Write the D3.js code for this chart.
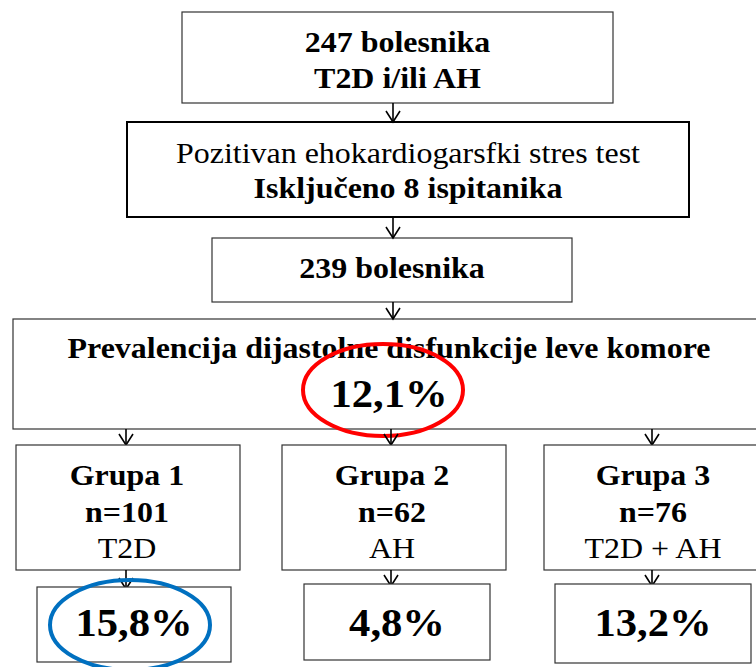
<!DOCTYPE html>
<html>
<head>
<meta charset="utf-8">
<script src="https://cdn.jsdelivr.net/npm/d3@7"></script>
<style>
  body { margin: 0; background: #fff; }
  svg { display: block; }
</style>
</head>
<body>
<div class="flow"></div>
<script>
// chart values
const screened = 247;
const screenedLabel = "T2D i/ili AH";
const excludedLabel = "Pozitivan ehokardiogarsfki stres test";
const excluded = 8;
const included = screened - excluded;
const overallTitle = "Prevalencija dijastolne disfunkcije leve komore";
const overallPrevalence = 12.1;
const groupNames = ["Grupa 1", "Grupa 2", "Grupa 3"];
const groupN = [101, 62, 76];
const groupTypes = ["T2D", "AH", "T2D + AH"];
const groupPrevalence = [15.8, 4.8, 13.2];

const width = 756, height = 667;
const font = "'Liberation Serif', 'Times New Roman', Tinos, serif";
const stretch = 1.065; // source text is a bit wider than Times
const pct = v => v.toFixed(1).replace(".", ",") + "%";

const svg = d3.select(".flow").append("svg")
    .attr("width", width)
    .attr("height", height);

// layout of the top boxes
const topBoxes = [
    { x0: 182, x1: 613, y0: 12, y1: 103, sw: 1.2,
      lines: [{ t: `${screened} bolesnika`, b: true, y: 52 }, { t: screenedLabel, b: true, y: 88 }] },
    { x0: 127, x1: 689, y0: 122, y1: 217, sw: 2,
      lines: [{ t: excludedLabel, b: false, y: 163 }, { t: `Isključeno ${excluded} ispitanika`, b: true, y: 198 }] },
    { x0: 212, x1: 572, y0: 238, y1: 302, sw: 1.2,
      lines: [{ t: `${included} bolesnika`, b: true, y: 278 }] },
    { x0: 13, x1: 766, y0: 319, y1: 429, sw: 1.2,
      lines: [{ t: overallTitle, b: true, y: 358 }] }
];

// columns for the three groups
const col = d3.scaleOrdinal().domain(groupNames).range([126, 391, 652]);
const groupBox = d3.scaleOrdinal().domain(groupNames).range([[16, 240], [282, 506], [544, 760]]);
const resultBox = d3.scaleOrdinal().domain(groupNames).range([[37, 231, 587, 662], [304, 490, 584, 660], [555, 751, 584, 663]]);

function box(x0, x1, y0, y1, sw) {
    svg.append("rect")
        .attr("x", x0).attr("y", y0)
        .attr("width", x1 - x0).attr("height", y1 - y0)
        .attr("fill", "#fff")
        .attr("stroke", sw > 1.5 ? "#000" : "#333")
        .attr("stroke-width", sw);
}

function arrow(x, y0, y1) {
    const g = svg.append("g").attr("stroke", "#000").attr("stroke-width", 1.6).attr("fill", "none");
    g.append("line").attr("x1", x).attr("x2", x).attr("y1", y0).attr("y2", y1);
    g.append("path").attr("d", `M${x - 7},${y1 - 11}L${x},${y1}L${x + 7},${y1 - 11}`);
}

function text(x, y, t, size, bold) {
    return svg.append("text")
        .attr("transform", `translate(${x},${y}) scale(${stretch},1)`)
        .attr("text-anchor", "middle")
        .attr("font-family", font)
        .attr("font-size", size)
        .attr("font-weight", bold ? "bold" : "normal")
        .attr("fill", "#000")
        .text(t);
}

topBoxes.forEach(b => {
    box(b.x0, b.x1, b.y0, b.y1, b.sw);
    const cx = (b.x0 + Math.min(b.x1, 765)) / 2;
    b.lines.forEach(l => text(cx, l.y, l.t, 30, l.b));
});

arrow(393, 103, 122);
arrow(393, 217, 238);
arrow(393, 302, 319);

// overall prevalence
text(389, 407, pct(overallPrevalence), 40, true);
svg.append("ellipse")
    .attr("cx", 383).attr("cy", 390).attr("rx", 80).attr("ry", 46)
    .attr("fill", "none").attr("stroke", "#ff0000").attr("stroke-width", 4);

groupNames.forEach((g, i) => {
    const [gx0, gx1] = groupBox(g);
    const [rx0, rx1, ry0, ry1] = resultBox(g);
    const cx = col(g);
    arrow(cx, 429, 445);
    box(gx0, gx1, 445, 570, 1.2);
    text(cx + 1, 485, g, 30, true);
    text(cx + 1, 522, `n=${groupN[i]}`, 30, true);
    text(cx + 1, 558, groupTypes[i], 30, false);
    arrow(cx, 570, ry0 + 2);
    box(rx0, rx1, ry0, ry1, 1.2);
    text((rx0 + rx1) / 2, 636, pct(groupPrevalence[i]), 40, true);
});

// highest group highlighted
svg.append("ellipse")
    .attr("cx", 130).attr("cy", 625).attr("rx", 80).attr("ry", 45)
    .attr("fill", "none").attr("stroke", "#0070c0").attr("stroke-width", 4);
</script>
</body>
</html>
